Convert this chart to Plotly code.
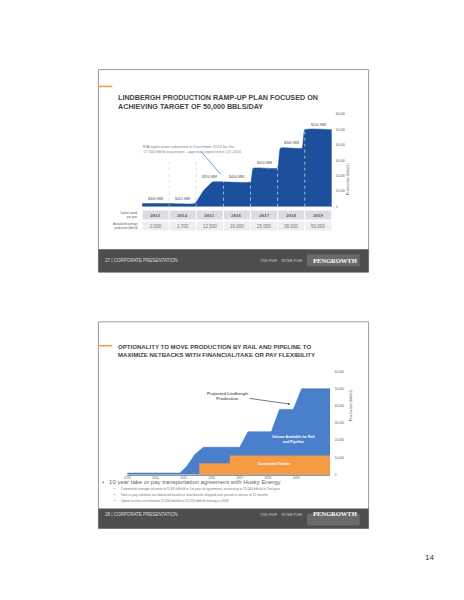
import plotly.graph_objects as go

# page is shown with the browser's 8px body margin, so the figure is shrunk by that much
OFF = 8
W, H = 464 - 2 * OFF, 600 - 2 * OFF

# --- slide 27 data ---
top_x = [0, 1, 1.95, 2.25, 2.6, 4.0, 4.1, 5.0, 5.1, 5.9, 6.0, 7.0]
top_y = [2000, 2000, 2000, 10000, 16000, 16000, 25000, 25000, 38000, 38000, 50000, 50000]
years = ["2013", "2014", "2015", "2016", "2017", "2018", "2019"]
capex = ["$300 MM", "$405 MM", "$350 MM", "$400 MM", "$450 MM", "$360 MM", "$100 MM"]
capex_y = [2000, 2000, 16000, 16000, 25000, 38000, 50000]
avg_prod = ["2,000", "1,700", "12,500", "16,000", "25,000", "38,000", "50,000"]

# --- slide 28 data ---
proj_x = [2013, 2014.88, 2015.12, 2015.41, 2015.71, 2017.0, 2017.29, 2018.12, 2018.41, 2018.9, 2019.2, 2020.21]
proj_y = [1000, 1000, 5000, 12000, 16000, 16000, 25000, 25000, 38000, 38000, 50000, 50000]
comm_x = [2015.56, 2016.65, 2016.65, 2020.21]
comm_y = [6500, 6500, 11000, 11000]
bot_years = [2013, 2014, 2015, 2016, 2017, 2018, 2019]
bullets = [
    "Committed average volumes of 6,500 bbls/d in 1st year of agreement, increasing to 11,000 bbls/d in 2nd year",
    "Take or pay volumes are balanced based on total barrels shipped over period in excess of 12 months",
    "Option to elect incremental 12,500 bbls/d to 22,500 bbls/d starting in 2018",
]

def px(x): return (x - OFF) / W
def py(y): return 1 - (y - OFF) / H

def note(x, y, text, size, color="#555555", **kw):
    d = dict(x=px(x), y=py(y), xref="paper", yref="paper", text=text, showarrow=False,
             font=dict(size=size, color=color, family=kw.pop("family", "Liberation Sans")))
    d.update(kw)
    return d

fig = go.Figure()
fig.add_trace(go.Scatter(x=top_x, y=top_y, fill="tozeroy", mode="lines", line=dict(color="#1c4f9c", width=0.5, shape="spline", smoothing=0.3),
                         fillcolor="#1c4f9c", xaxis="x", yaxis="y", hoverinfo="skip"))
fig.add_trace(go.Scatter(x=proj_x, y=proj_y, fill="tozeroy", mode="lines", line=dict(color="#2f6fc0", width=0.5),
                         fillcolor="#4a7fcb", xaxis="x2", yaxis="y2", hoverinfo="skip"))
fig.add_trace(go.Scatter(x=comm_x, y=comm_y, fill="tozeroy", mode="lines", line=dict(color="#f0963c", width=0.5),
                         fillcolor="#f59a45", xaxis="x2", yaxis="y2", hoverinfo="skip"))

shapes, ann = [], []
grey = "#555555"
# slide frames and footers
for (y0, y1, fy, num) in [(68, 272, 249, 27), (322, 530, 510, 28)]:
    shapes.append(dict(type="rect", xref="paper", yref="paper", x0=px(96), x1=px(368), y0=py(y1), y1=py(y0),
                       line=dict(color="#999999", width=1), fillcolor="white", layer="below"))
    shapes.append(dict(type="rect", xref="paper", yref="paper", x0=px(96), x1=px(368), y0=py(y1), y1=py(fy),
                       line=dict(width=0), fillcolor="#4e4e4e"))
    shapes.append(dict(type="rect", xref="paper", yref="paper", x0=px(306), x1=px(359), y0=py(fy + 17), y1=py(fy + 5),
                       line=dict(width=0), fillcolor="#6a6a6a"))
    ann.append(note(358, fy + 11, "<b>PENGROWTH</b>", 6.5, "white", xanchor="right", family="Liberation Serif"))
    ann.append(note(303, fy + 11, "TSX:PGF    NYSE:PGH", 4, "#cccccc", xanchor="right"))
    ann.append(note(101, fy + 11, "%d | CORPORATE PRESENTATION" % num, 4.5, "#dddddd", xanchor="left"))
# titles
shapes.append(dict(type="line", xref="paper", yref="paper", x0=px(96), x1=px(110), y0=py(85), y1=py(85), line=dict(color="#f0a030", width=1.5)))
shapes.append(dict(type="line", xref="paper", yref="paper", x0=px(96), x1=px(110), y0=py(346), y1=py(346), line=dict(color="#f0a030", width=1.5)))
ann.append(note(114, 90, "<b>LINDBERGH PRODUCTION RAMP-UP PLAN FOCUSED ON<br>ACHIEVING TARGET OF 50,000 BBLS/DAY</b>", 7.2, "#444444",
                xanchor="left", align="left"))
ann.append(note(114, 351, "<b>OPTIONALITY TO MOVE PRODUCTION BY RAIL AND PIPELINE TO<br>MAXIMIZE NETBACKS WITH FINANCIAL/TAKE OR PAY FLEXIBILITY</b>", 6.1, "#444444",
                xanchor="left", align="left"))

# top chart: dotted year dividers, capex labels, table
for i in range(1, 7):
    shapes.append(dict(type="line", xref="x", yref="y", x0=i, x1=i, y0=0, y1=[30000, 30000, 30000, 40000, 40000, 55000][i - 1],
                       line=dict(color="#cccccc" if i < 3 else "white", width=0.6, dash="dot")))
for i, (c, cy) in enumerate(zip(capex, capex_y)):
    ann.append(dict(x=i + 0.5, y=cy, xref="x", yref="y", text=c, showarrow=False, yshift=5, font=dict(size=3.6, color=grey)))
for i, (yr, v) in enumerate(zip(years, avg_prod)):
    shapes.append(dict(type="rect", xref="x", yref="paper", x0=i + 0.02, x1=i + 0.98, y0=py(219), y1=py(210), line=dict(width=0), fillcolor="#dcdde3"))
    shapes.append(dict(type="rect", xref="x", yref="paper", x0=i + 0.02, x1=i + 0.98, y0=py(230), y1=py(221), line=dict(width=0), fillcolor="#eceef2"))
    ann.append(dict(x=i + 0.5, y=py(214.5), xref="x", yref="paper", text="<b>" + yr + "</b>", showarrow=False,
                    font=dict(size=5, color="#555555", family="Liberation Serif")))
    ann.append(dict(x=i + 0.5, y=py(225.5), xref="x", yref="paper", text=v, showarrow=False, font=dict(size=4.5, color="#777777")))
ann.append(note(138, 214.5, "Capital spend<br>per year", 2.8, xanchor="right", align="right"))
ann.append(note(138, 225.5, "Annualized average<br>production (bbls/d)", 2.8, xanchor="right", align="right"))
ann.append(note(139, 141, "EIA application submitted in December 2013 for the<br>17,500 bbl/d expansion - approval expected in Q1 2016", 4, "#888888",
                xanchor="left", align="left"))
ann.append(dict(x=2.9, y=21000, xref="x", yref="y", ax=2.13, ay=36800, axref="x", ayref="y", text="", showarrow=True,
                arrowhead=0, arrowwidth=0.8, arrowcolor="#3a8fd0"))
ann.append(note(352, 159, "Production (bbls/d)", 3.8, textangle=-90))

# bottom chart labels
ann.append(dict(x=2018.8, y=41000, xref="x2", yref="y2", ax=2017.3, ay=44500, axref="x2", ayref="y2", text="", showarrow=True,
                arrowhead=2, arrowsize=0.6, arrowwidth=0.8, arrowcolor="#555555"))
ann.append(dict(x=2016.55, y=46000, xref="x2", yref="y2", text="<b>Projected Lindbergh<br>Production</b>", showarrow=False,
                font=dict(size=4.2, color="#666666")))
ann.append(dict(x=2018.9, y=20500, xref="x2", yref="y2", text="<b>Volume Available for Rail<br>and Pipeline</b>", showarrow=False,
                font=dict(size=3.6, color="white")))
ann.append(dict(x=2018.2, y=6000, xref="x2", yref="y2", text="<b>Committed Volume</b>", showarrow=False, font=dict(size=3.6, color="white")))
ann.append(note(354, 424, "Production (bbls/d)", 3.8, textangle=-90))
ann.append(note(98, 488, "•   10 year take or pay transportation agreement with Husky Energy", 6, "#666666", xanchor="left"))
for k, b in enumerate(bullets):
    ann.append(note(110, 494.5 + k * 6, "•      " + b, 3.3, "#777777", xanchor="left"))
ann.append(note(436, 566, "14", 8, "#333333"))

ticks = [0, 10000, 20000, 30000, 40000, 50000, 60000]
tick_txt = ["0", "10,000", "20,000", "30,000", "40,000", "50,000", "60,000"]
fig.update_layout(
    width=W, height=H, margin=dict(l=0, r=0, t=0, b=0), paper_bgcolor="white", plot_bgcolor="rgba(0,0,0,0)",
    showlegend=False, shapes=shapes, annotations=ann,
    xaxis=dict(domain=[px(140), px(331)], range=[0, 7], visible=False, fixedrange=True),
    yaxis=dict(domain=[py(206), py(113)], range=[0, 60000], side="right", anchor="free", position=px(334),
               tickvals=ticks, ticktext=tick_txt, tickfont=dict(size=3, color=grey), showgrid=False, zeroline=False, showline=False),
    xaxis2=dict(domain=[px(125), px(329.3)], range=[2013, 2020.21], anchor="y2", tickvals=bot_years,
                tickfont=dict(size=3, color=grey), showgrid=False, zeroline=False, showline=True, linecolor="#999999", linewidth=0.5, ticks=""),
    yaxis2=dict(domain=[py(476), py(372)], range=[0, 60000], side="right", anchor="free", position=px(333),
                tickvals=ticks, ticktext=tick_txt, tickfont=dict(size=3, color=grey), showgrid=False, zeroline=False, showline=False),
    font=dict(family="Liberation Sans"),
)
fig.write_html("out.html")
